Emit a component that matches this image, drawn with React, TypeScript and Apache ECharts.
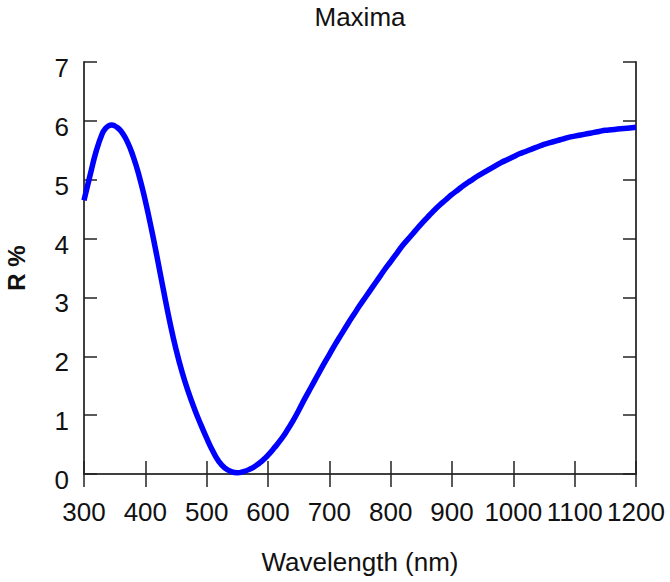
import React, { useEffect, useRef } from "react";
import * as echarts from "echarts";

const wavelengths = [
  300, 310, 320, 330, 335, 340, 345, 350, 355, 360, 370, 380, 390, 400, 410, 420, 430, 440, 450, 460, 470, 480, 490,
  500, 510, 520, 530, 540, 550, 560, 570, 580, 590, 600, 610, 620, 630, 640, 650, 660, 670, 680, 690,
  700, 710, 720, 730, 740, 750, 760, 770, 780, 790, 800, 810, 820, 830, 840, 850, 860, 870, 880, 890,
  900, 910, 920, 930, 940, 950, 960, 970, 980, 990, 1000, 1010, 1020, 1030, 1040, 1050, 1060, 1070, 1080, 1090,
  1100, 1110, 1120, 1130, 1140, 1150, 1160, 1170, 1180, 1190, 1200,
];
const reflectance = [
  4.65, 5.08, 5.49, 5.79, 5.87, 5.915, 5.93, 5.915, 5.88, 5.83, 5.66, 5.4, 5.06, 4.64, 4.16, 3.64, 3.1, 2.58, 2.12, 1.73, 1.4, 1.11, 0.85,
  0.61, 0.39, 0.21, 0.1, 0.04, 0.02, 0.04, 0.08, 0.14, 0.22, 0.32, 0.44, 0.57, 0.72, 0.89, 1.08, 1.28, 1.47, 1.66, 1.85,
  2.03, 2.21, 2.38, 2.55, 2.71, 2.87, 3.02, 3.17, 3.32, 3.47, 3.61, 3.75, 3.89, 4.01, 4.13, 4.25, 4.36, 4.47, 4.57, 4.66,
  4.75, 4.83, 4.91, 4.98, 5.05, 5.11, 5.17, 5.23, 5.29, 5.34, 5.39, 5.44, 5.48, 5.52, 5.56, 5.6, 5.63, 5.66, 5.69, 5.72,
  5.74, 5.76, 5.78, 5.8, 5.82, 5.84, 5.85, 5.86, 5.87, 5.88, 5.89,
];
const xRange = { min: 300, max: 1200, step: 100 };
const yRange = { min: 0, max: 7, step: 1 };
const titleText = "Maxima";
const xName = "Wavelength (nm)";
const yName = "R %";

const FONT = "Liberation Sans";

export default function App() {
  const ref = useRef<HTMLDivElement>(null);
  useEffect(() => {
    document.body.style.margin = "0";
    if (!ref.current) return;
    const chart = echarts.init(ref.current, null, { renderer: "svg" });
    const axisLine = { show: true, lineStyle: { color: "#404040", width: 2 } };
    const tick = { show: true, inside: true, length: 13, lineStyle: { color: "#222", width: 1.5 } };
    const fmt = (v: number) => String(v);
    chart.setOption({
      animation: false,
      backgroundColor: "#fff",
      graphic: [
        {
          type: "text",
          x: 360,
          y: 17,
          style: {
            text: titleText,
            fontFamily: FONT,
            fontSize: 26,
            fill: "#111",
            align: "center",
            verticalAlign: "middle",
          },
        },
      ],
      grid: { left: 84, right: 34, top: 62, bottom: 108, containLabel: false, outerBoundsMode: "none" },
      xAxis: [
        {
          type: "value",
          min: xRange.min,
          max: xRange.max,
          interval: xRange.step,
          position: "bottom",
          axisLine,
          axisTick: tick,
          splitLine: { show: false },
          axisLabel: { fontFamily: FONT, fontSize: 26, color: "#111", margin: 25, formatter: fmt },
          name: xName,
          nameLocation: "middle",
          nameGap: 75,
          nameTextStyle: { fontFamily: FONT, fontSize: 26, color: "#111" },
        },
        {
          type: "value",
          min: xRange.min,
          max: xRange.max,
          interval: xRange.step,
          position: "top",
          axisLine,
          axisTick: tick,
          splitLine: { show: false },
          axisLabel: { show: false },
        },
      ],
      yAxis: [
        {
          type: "value",
          min: yRange.min,
          max: yRange.max,
          interval: yRange.step,
          position: "left",
          axisLine,
          axisTick: tick,
          splitLine: { show: false },
          axisLabel: {
            fontFamily: FONT,
            fontSize: 26,
            color: "#111",
            margin: 15,
            verticalAlign: "top",
            lineHeight: 12,
            formatter: fmt,
          },
          name: yName,
          nameLocation: "middle",
          nameGap: 56,
          nameRotate: 90,
          nameTextStyle: { fontFamily: FONT, fontSize: 24, fontWeight: "bold", color: "#111" },
        },
        {
          type: "value",
          min: yRange.min,
          max: yRange.max,
          interval: yRange.step,
          position: "right",
          axisLine,
          axisTick: tick,
          splitLine: { show: false },
          axisLabel: { show: false },
        },
      ],
      series: [
        {
          type: "line",
          data: wavelengths.map((w, i) => [w, reflectance[i]]),
          smooth: true,
          showSymbol: false,
          clip: false,
          lineStyle: { color: "#0000ff", width: 5.5 },
        },
      ],
    });
    return () => chart.dispose();
  }, []);
  return <div ref={ref} style={{ width: 670, height: 582 }} />;
}
